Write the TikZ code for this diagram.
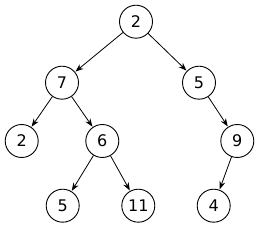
\documentclass[tikz,border=0pt]{standalone}
\usepackage{fontspec}
\setmainfont{DejaVu Sans}
\usetikzlibrary{arrows.meta}
\begin{document}
\begin{tikzpicture}[x=1pt,y=-1pt,
  treenode/.style={circle,draw,line width=0.9pt,minimum size=33pt,inner sep=0pt,font=\fontsize{16}{18}\selectfont},
  edge/.style={-{Stealth[length=8pt,width=6pt]},line width=0.8pt,shorten >=0.5pt}]
\useasboundingbox (0,0) rectangle (260,229);
\node[treenode] (r) at (136,21.7) {2};
\node[treenode] (a) at (62,82.7) {7};
\node[treenode] (b) at (199,82.7) {5};
\node[treenode] (c) at (21.7,141) {2};
\node[treenode] (d) at (102.3,141) {6};
\node[treenode] (e) at (237.3,141) {9};
\node[treenode] (f) at (62.7,205.7) {5};
\node[treenode] (g) at (138.3,205.7) {11};
\node[treenode] (h) at (213.7,205.7) {4};
\draw[edge] (r) -- (a);
\draw[edge] (r) -- (b);
\draw[edge] (a) -- (c);
\draw[edge] (a) -- (d);
\draw[edge] (b) -- (e);
\draw[edge] (d) -- (f);
\draw[edge] (d) -- (g);
\draw[edge] (e) -- (h);
\end{tikzpicture}
\end{document}
